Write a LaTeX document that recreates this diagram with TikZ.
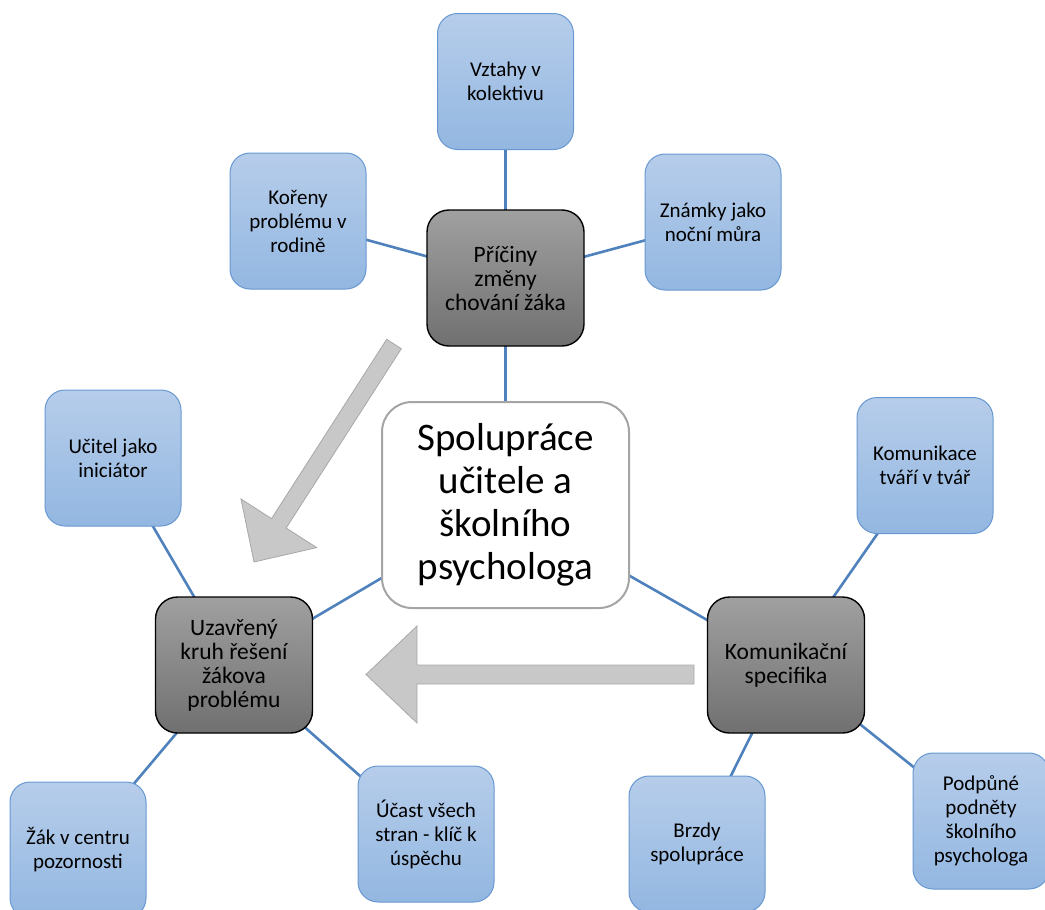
\documentclass[tikz,border=0pt]{standalone}
\usepackage{fontspec}
\setmainfont{Carlito}
\usetikzlibrary{calc,backgrounds}
\definecolor{linkblue}{RGB}{79,129,189}
\definecolor{bluetop}{RGB}{182,205,234}
\definecolor{bluebot}{RGB}{147,183,225}
\definecolor{blueborder}{RGB}{104,152,209}
\definecolor{graytop}{RGB}{160,160,160}
\definecolor{graybot}{RGB}{112,112,112}
\definecolor{centerborder}{RGB}{165,165,165}
\definecolor{arrowfill}{RGB}{200,200,200}
\definecolor{arrowline}{RGB}{168,168,168}
\tikzset{
  leafbox/.style={draw=blueborder, line width=1pt, rounded corners=20pt,
    top color=bluetop, bottom color=bluebot, minimum width=136pt, minimum height=136pt,
    align=center, inner sep=0pt, font=\fontsize{21}{24}\selectfont},
  hubbox/.style={draw=black, line width=1.4pt, rounded corners=22pt,
    top color=graytop, bottom color=graybot, minimum width=157pt, minimum height=136pt,
    align=center, inner sep=0pt, font=\fontsize{23.5}{24}\selectfont},
  centerbox/.style={draw=centerborder, line width=2pt, fill=white, rounded corners=30pt,
    minimum width=247pt, minimum height=206pt, align=center, inner sep=0pt,
    font=\fontsize{39}{43}\selectfont},
  link/.style={draw=linkblue, line width=2.6pt},
  blockarrow/.style={fill=arrowfill, draw=arrowline, line width=0.8pt, line join=miter}
}
\newcommand\myblockarrow[5]{% tail, tip, shaft half width, head half width, head length
  \draw[blockarrow]
    ($(#1)!#3!90:(#2)$) --
    ($($(#2)!#5!(#1)$)!#3!-90:(#1)$) --
    ($($(#2)!#5!(#1)$)!#4!-90:(#1)$) --
    (#2) --
    ($($(#2)!#5!(#1)$)!#4!90:(#1)$) --
    ($($(#2)!#5!(#1)$)!#3!90:(#1)$) --
    ($(#1)!#3!-90:(#2)$) -- cycle;}
\begin{document}
\begin{tikzpicture}[x=1pt,y=-1pt]
\useasboundingbox (0,0) rectangle (1045,910);
% central
\node[centerbox] (C) at (505.5,505) {Spolupráce\\učitele a\\školního\\psychologa};
% hubs
\node[hubbox] (pr) at (505.5,278) {Příčiny\\změny\\chování žáka};
\node[hubbox] (uz) at (234,665) {Uzavřený\\kruh řešení\\žákova\\problému};
\node[hubbox] (ks) at (786,665) {Komunikační\\specifika};
% leaves
\node[leafbox] (vz) at (505.5,81.5) {Vztahy v\\kolektivu};
\node[leafbox] (ko) at (298,221) {Kořeny\\problému v\\rodině};
\node[leafbox] (zn) at (713,222) {Známky jako\\noční můra};
\node[leafbox] (uc) at (113,458) {Učitel jako\\iniciátor};
\node[leafbox] (za) at (78,850) {Žák v centru\\pozornosti};
\node[leafbox] (ua) at (426,834) {Účast všech\\stran - klíč k\\úspěchu};
\node[leafbox] (kt) at (925,465.5) {Komunikace\\tváří v tvář};
\node[leafbox] (br) at (697,844) {Brzdy\\spolupráce};
\node[leafbox] (pp) at (981,821) {Podpůné\\podněty\\školního\\psychologa};
% connectors
\begin{scope}[on background layer]
\draw[link] (C.center) -- (pr.center);
\draw[link] (C.center) -- (uz.center);
\draw[link] (C.center) -- (ks.center);
\draw[link] (pr.center) -- (vz.center);
\draw[link] (pr.center) -- (ko.center);
\draw[link] (pr.center) -- (zn.center);
\draw[link] (uz.center) -- (uc.center);
\draw[link] (uz.center) -- (za.center);
\draw[link] (uz.center) -- (ua.center);
\draw[link] (ks.center) -- (kt.center);
\draw[link] (ks.center) -- (br.center);
\draw[link] (ks.center) -- (pp.center);
\end{scope}
% block arrows
\coordinate (a1tail) at (394,344);
\coordinate (a1tip) at (254,562);
\coordinate (a2tail) at (694,674.5);
\coordinate (a2tip) at (366,674.5);
\myblockarrow{a1tail}{a1tip}{8.7pt}{45pt}{46pt}
\myblockarrow{a2tail}{a2tip}{9.5pt}{48.5pt}{51pt}
\end{tikzpicture}
\end{document}
